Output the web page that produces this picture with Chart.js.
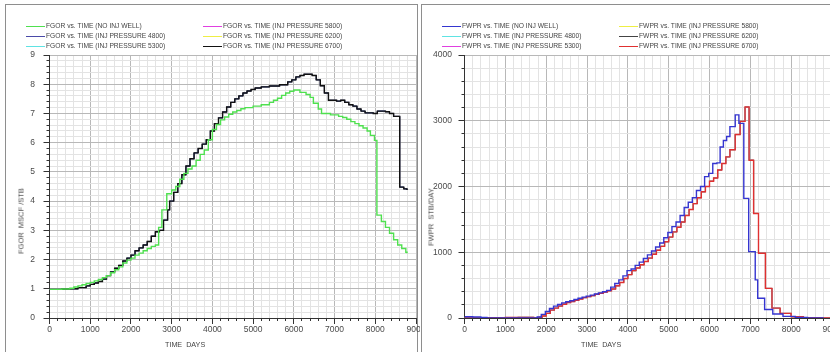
<!DOCTYPE html>
<html>
<head>
<meta charset="utf-8">
<script src="https://cdn.jsdelivr.net/npm/chart.js@4.4.1/dist/chart.umd.min.js"></script>
<style>
html,body{margin:0;padding:0;background:#fff;width:830px;height:352px;overflow:hidden;font-family:"Liberation Sans",Arial,sans-serif;}
.panel{position:absolute;border:1px solid #8e8e8e;box-sizing:border-box;}
#p1{left:5px;top:4px;width:413px;height:370px;}
#p2{left:421px;top:4px;width:420px;height:370px;}
canvas{position:absolute;top:0;}
#c1{left:0;}
#c2{left:420px;}
.leg{position:absolute;height:10px;white-space:nowrap;font-size:6.7px;color:#444;}
.leg .ln{position:absolute;left:0;top:4.5px;width:19px;height:1.5px;}
.leg .tx{position:absolute;left:20px;top:0;line-height:10px;}
.xt{position:absolute;font-size:7.2px;color:#444;white-space:pre;line-height:9px;}
.yt{position:absolute;font-size:7.5px;color:#444;white-space:pre;line-height:9px;transform:translate(-50%,-50%) rotate(-90deg);}
</style>
</head>
<body>
<div class="panel" id="p1"></div>
<div class="panel" id="p2"></div>
<canvas id="c1" width="420" height="352"></canvas>
<canvas id="c2" width="416" height="352"></canvas>
<div id="legends"></div>
<div class="xt" style="left:165px;top:340px;">TIME  DAYS</div>
<div class="xt" style="left:581px;top:340px;">TIME  DAYS</div>
<div class="yt" style="left:20.5px;top:220.5px;">FGOR  MSCF /STB</div>
<div class="yt" style="left:430.5px;top:217px;">FWPR  STB/DAY</div>
<script>
// ---------------- DATA ----------------
const caseNames = ['NO INJ WELL','INJ PRESSURE 4800','INJ PRESSURE 5300','INJ PRESSURE 5800','INJ PRESSURE 6200','INJ PRESSURE 6700'];
const fgorColors = ['#4fe04f','#4a4aa8','#5fe3e3','#e040e0','#eeee44','#111111'];
const fwprColors = ['#3535d0','#5fe3e3','#e040e0','#eeee44','#444444','#e03030'];

const xTickLabels = ['0','1000','2000','3000','4000','5000','6000','7000','8000','9000'];
const fgorTickLabels = ['0','1','2','3','4','5','6','7','8','9'];
const fwprTickLabels = ['0','1000','2000','3000','4000'];

// FGOR (MSCF/STB), no injection well
const fgorNoInjT = [0,300,500,600,700,800,900,1000,1100,1200,1300,1400,1500,1600,1700,1800,1900,2000,2100,2200,2300,2400,2500,2600,2680,2760,2880,3000,3100,3200,3300,3400,3500,3600,3700,3800,3900,4000,4100,4200,4300,4400,4500,4600,4700,4800,5000,5200,5400,5500,5600,5700,5800,5900,6000,6150,6300,6400,6480,6600,6680,6900,7100,7200,7300,7400,7500,7600,7700,7800,7880,7980,8040,8150,8250,8350,8450,8550,8650,8750,8780];
const fgorNoInjV = [0.98,0.99,1.02,1.06,1.10,1.14,1.18,1.22,1.27,1.32,1.38,1.45,1.55,1.65,1.75,1.88,1.98,2.05,2.15,2.22,2.30,2.38,2.45,2.50,3.10,3.70,4.25,4.38,4.50,4.75,4.95,5.10,5.20,5.40,5.60,5.75,6.10,6.45,6.62,6.78,6.88,6.97,7.05,7.10,7.16,7.20,7.25,7.30,7.38,7.45,7.52,7.62,7.70,7.76,7.80,7.72,7.65,7.55,7.35,7.15,7.00,6.95,6.90,6.86,6.80,6.72,6.65,6.58,6.50,6.40,6.25,6.08,3.52,3.30,3.10,2.90,2.68,2.50,2.38,2.25,2.22];

// FGOR (MSCF/STB), injection pressure 6700 (other pressures coincide with it)
const fgor6700T = [0,300,500,700,900,1000,1100,1200,1300,1400,1500,1600,1700,1800,1900,2000,2100,2200,2300,2400,2500,2600,2700,2800,2900,2950,3050,3150,3250,3350,3450,3550,3650,3750,3850,3950,4050,4150,4250,4350,4450,4550,4650,4750,4850,4950,5050,5200,5400,5650,5850,5950,6050,6150,6250,6450,6550,6650,6750,6850,7050,7150,7250,7350,7450,7550,7650,7750,7950,8050,8250,8350,8450,8600,8700,8780];
const fgor6700V = [0.98,0.99,1.00,1.04,1.10,1.15,1.20,1.25,1.33,1.45,1.58,1.70,1.80,1.95,2.05,2.15,2.30,2.40,2.50,2.62,2.80,2.95,3.00,3.35,3.70,4.00,4.30,4.60,4.90,5.20,5.45,5.65,5.80,5.95,6.10,6.40,6.65,6.85,7.05,7.22,7.38,7.50,7.60,7.70,7.77,7.82,7.87,7.91,7.94,7.98,8.08,8.15,8.25,8.30,8.34,8.30,8.15,7.95,7.70,7.45,7.42,7.45,7.38,7.30,7.25,7.15,7.08,7.02,7.00,7.08,7.06,7.00,6.90,4.48,4.42,4.38];

// FWPR (STB/DAY), no injection well
const fwprNoInjT = [0,200,400,550,1650,1780,1880,1980,2080,2180,2280,2380,2480,2580,2680,2780,2880,2980,3080,3180,3280,3380,3480,3580,3680,3780,3880,3980,4080,4180,4280,4380,4480,4580,4680,4780,4880,4980,5080,5180,5280,5380,5480,5580,5680,5780,5880,5980,6080,6180,6260,6340,6420,6500,6630,6720,6840,6960,7120,7180,7350,7550,7800,8100,8400,8800];
const fwprNoInjV = [20,15,10,0,0,15,55,100,145,180,205,230,248,262,282,300,318,332,348,366,382,400,420,470,525,580,640,720,745,800,850,905,960,1020,1080,1140,1220,1300,1390,1460,1560,1680,1760,1830,1940,2000,2150,2200,2350,2360,2600,2700,2760,2910,3090,2960,1820,1010,580,300,130,60,25,8,0,0];

// FWPR (STB/DAY), injection pressure 6700 (other pressures coincide with it)
const fwpr6700T = [0,500,1000,1300,1700,1800,1900,2000,2100,2200,2300,2400,2500,2600,2700,2800,2900,3000,3100,3200,3300,3400,3500,3600,3700,3800,3900,4000,4100,4200,4300,4400,4500,4600,4700,4800,4900,5000,5100,5200,5300,5400,5500,5600,5700,5800,5900,6000,6100,6200,6300,6400,6500,6630,6750,6870,6970,7080,7200,7370,7530,7730,8000,8300,8700,9000];
const fwpr6700V = [0,5,8,10,0,10,30,70,120,150,180,210,235,250,270,290,310,325,340,360,375,395,415,440,490,540,600,660,720,760,810,860,910,970,1030,1090,1160,1230,1310,1380,1460,1560,1650,1740,1830,1920,2000,2080,2130,2250,2350,2450,2560,2790,2990,3210,2400,1590,985,450,150,70,20,5,0,0];

// ---------------- CHARTS ----------------
const FONT = '"Liberation Sans", Arial, sans-serif';
const near = (v, m) => Math.abs(v / m - Math.round(v / m)) < 1e-6;
const pts = (T, V) => T.map((t, i) => ({x: t, y: V[i]}));

function scaleOpts(min, max, step, major, labels, isY, size, pad) {
  return {
    type: 'linear', min: min, max: max, position: isY ? 'left' : 'bottom',
    ticks: {
      stepSize: step, autoSkip: false, maxRotation: 0, minRotation: 0, padding: pad,
      color: '#4a4a4a', font: {family: FONT, size: 8.5},
      callback: v => near(v, major) ? (labels[Math.round((v - min) / major)] ?? '') : ''
    },
    grid: {
      color: c => (c.tick && near(c.tick.value, major)) ? '#b8b8b8' : '#e3e3e3',
      lineWidth: 1, drawTicks: false
    },
    border: {display: true, color: '#333', width: 1},
    afterFit: s => {
      if (isY) s.width = size; else s.height = size;
      s.paddingLeft = 0; s.paddingRight = 0; s.paddingTop = 0; s.paddingBottom = 0;
    }
  };
}

// tick marks outside the axes: long on major values, short on minor ones
const tickMarks = {
  id: 'tickMarks',
  afterDraw(chart, args, opts) {
    const ctx = chart.ctx, a = chart.chartArea, xs = chart.scales.x, ys = chart.scales.y;
    const al = p => Math.round(p - 0.5) + 0.5;
    ctx.save();
    ctx.strokeStyle = '#333';
    ctx.lineWidth = 1;
    ctx.beginPath();
    xs.ticks.forEach(t => {
      const p = al(xs.getPixelForValue(t.value));
      const L = near(t.value, opts.xMajor) ? 6 : 3;
      ctx.moveTo(p, a.bottom); ctx.lineTo(p, a.bottom + L);
    });
    ys.ticks.forEach(t => {
      const p = al(ys.getPixelForValue(t.value));
      const L = near(t.value, opts.yMajor) ? 6 : 3;
      ctx.moveTo(a.left, p); ctx.lineTo(a.left - L, p);
    });
    ctx.stroke();
    ctx.restore();
  }
};

function makeDatasets(prefix, colors, baseT, baseV, topT, topV) {
  return caseNames.map((name, i) => {
    const isBase = i === 0, isTop = i === 5;
    const T = isBase ? baseT : topT, V = isBase ? baseV : topV;
    return {
      label: prefix + ' vs. TIME (' + name + ')',
      data: pts(T, V),
      borderColor: colors[i], backgroundColor: colors[i],
      borderWidth: (isBase || isTop) ? 1.4 : 1,
      pointRadius: 0, fill: false, stepped: 'before', tension: 0,
      order: (isBase || isTop) ? 0 : 5
    };
  });
}

function makeChart(id, datasets, xs, ys, padding, yMajor) {
  return new Chart(document.getElementById(id), {
    type: 'line',
    data: {datasets: datasets},
    plugins: [tickMarks],
    options: {
      responsive: false, animation: false, devicePixelRatio: 1,
      layout: {padding: padding},
      plugins: {legend: {display: false}, tooltip: {enabled: false}, title: {display: false},
        tickMarks: {xMajor: 1000, yMajor: yMajor}},
      scales: {x: xs, y: ys}
    }
  });
}

const fgorSets = makeDatasets('FGOR', fgorColors, fgorNoInjT, fgorNoInjV, fgor6700T, fgor6700V);
const fwprSets = makeDatasets('FWPR', fwprColors, fwprNoInjT, fwprNoInjV, fwpr6700T, fwpr6700V);

makeChart('c1', fgorSets,
  scaleOpts(0, 9000, 200, 1000, xTickLabels, false, 20, 7),
  scaleOpts(0, 9, 0.2, 1, fgorTickLabels, true, 49.5, 14.5),
  {left: 0, top: 55, right: 4, bottom: 14}, 1);

makeChart('c2', fwprSets,
  scaleOpts(0, 9000, 200, 1000, xTickLabels, false, 20, 7),
  scaleOpts(0, 4000, 200, 1000, fwprTickLabels, true, 44.5, 12.5),
  {left: 0, top: 55, right: 4, bottom: 14}, 1000);

// ---------------- LEGENDS (HTML, from dataset labels/colors) ----------------
function buildLegend(sets, colX, rowY) {
  const host = document.getElementById('legends');
  sets.forEach((ds, i) => {
    const col = Math.floor(i / 3), row = i % 3;
    const d = document.createElement('div');
    d.className = 'leg';
    d.style.left = colX[col] + 'px';
    d.style.top = (rowY[row] - 5) + 'px';
    const ln = document.createElement('div');
    ln.className = 'ln'; ln.style.background = ds.borderColor;
    const tx = document.createElement('div');
    tx.className = 'tx'; tx.textContent = ds.label;
    d.appendChild(ln); d.appendChild(tx);
    host.appendChild(d);
  });
}
buildLegend(fgorSets, [26, 203], [26, 36, 46]);
buildLegend(fwprSets, [442, 619], [26, 36, 46]);
</script>
</body>
</html>
